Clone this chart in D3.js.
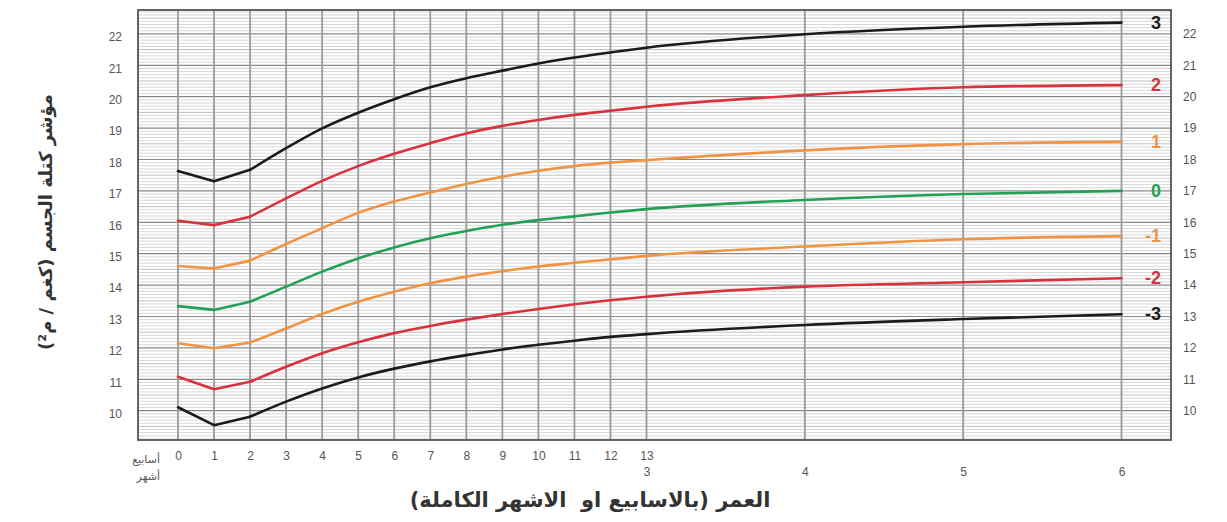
<!DOCTYPE html>
<html>
<head>
<meta charset="utf-8">
<script src="https://cdn.jsdelivr.net/npm/d3@7"></script>
<style>
  html, body { margin: 0; padding: 0; background: #fff; }
  svg { display: block; }
</style>
</head>
<body>
<svg id="chart" width="1227" height="522"></svg>
<script>
// ---------- data ----------
const weeks = [0,1,2,3,4,5,6,7,8,9,10,11,12,13];
const months = [3,4,5,6];
const weekTickLabels = ["0","1","2","3","4","5","6","7","8","9","10","11","12","13"];
const monthTickLabels = ["3","4","5","6"];
const yTicks = [10,11,12,13,14,15,16,17,18,19,20,21,22];
const zLabels = ["3","2","1","0","-1","-2","-3"];

const sdPlus3Weeks  = [17.63,17.31,17.67,18.36,18.99,19.49,19.92,20.30,20.59,20.83,21.06,21.25,21.41,21.56];
const sdPlus3Months = [21.56,21.99,22.23,22.36];
const sdPlus2Weeks  = [16.05,15.91,16.18,16.76,17.32,17.79,18.18,18.52,18.83,19.07,19.26,19.42,19.55,19.68];
const sdPlus2Months = [19.68,20.05,20.30,20.37];
const sdPlus1Weeks  = [14.61,14.53,14.78,15.31,15.81,16.30,16.66,16.95,17.22,17.45,17.64,17.79,17.90,17.98];
const sdPlus1Months = [17.98,18.29,18.49,18.57];
const sd0Weeks      = [13.33,13.21,13.47,13.95,14.43,14.85,15.20,15.49,15.72,15.92,16.07,16.19,16.31,16.42];
const sd0Months     = [16.42,16.71,16.90,17.00];
const sdMinus1Weeks = [12.15,11.99,12.17,12.62,13.08,13.47,13.79,14.06,14.27,14.44,14.59,14.71,14.82,14.93];
const sdMinus1Months= [14.93,15.23,15.46,15.56];
const sdMinus2Weeks = [11.08,10.68,10.92,11.40,11.83,12.18,12.47,12.70,12.90,13.08,13.24,13.39,13.52,13.63];
const sdMinus2Months= [13.63,13.95,14.09,14.22];
const sdMinus3Weeks = [10.11,9.54,9.81,10.29,10.71,11.06,11.34,11.57,11.77,11.95,12.10,12.23,12.35,12.44];
const sdMinus3Months= [12.44,12.73,12.92,13.07];

const yTitle = "مؤشر كتلة الجسم (كغم / م²)";
const xTitle = "العمر (بالاسابيع او  الاشهر الكاملة)";
const weeksWord = "أسابيع";
const monthsWord = "أشهر";

// ---------- styles ----------
const colors = {black:"#1b1b1b", red:"#d8323f", orange:"#f09443", green:"#22a055"};
const seriesColors = [colors.black, colors.red, colors.orange, colors.green, colors.orange, colors.red, colors.black];
const weekSeries = [sdPlus3Weeks, sdPlus2Weeks, sdPlus1Weeks, sd0Weeks, sdMinus1Weeks, sdMinus2Weeks, sdMinus3Weeks];
const monthSeries = [sdPlus3Months, sdPlus2Months, sdPlus1Months, sd0Months, sdMinus1Months, sdMinus2Months, sdMinus3Months];

const svg = d3.select("#chart");
const numFont = "'Liberation Sans', Arial, sans-serif";
const arFont = "'DejaVu Sans', sans-serif";

// x in weeks; months converted (13 weeks = 3 months)
const wPerM = 13/3;
const x = d3.scaleLinear().domain([0, 13, 26]).range([178, 646.5, 1121.5]);
const y = d3.scaleLinear().domain([10, 22]).range([410.7, 33.9]);

const frame = {left: 138, right: 1171, top: 10, bottom: 440};
const yMin = y.invert(frame.bottom), yMax = y.invert(frame.top);

const grid = svg.append("g");
// minor horizontal lines every 0.1
const minor = d3.range(Math.ceil(yMin*10), Math.floor(yMax*10)+1).map(d => d/10)
  .filter(v => Math.abs(v - Math.round(v)) > 1e-6);
grid.selectAll(".minor").data(minor).join("line")
  .attr("x1", frame.left).attr("x2", frame.right)
  .attr("y1", d => y(d)).attr("y2", d => y(d))
  .attr("stroke", d => Math.abs(d*2 - Math.round(d*2)) < 1e-6 ? "#b8b8b8" : "#d2d2d2")
  .attr("stroke-width", 0.9);
// major horizontal
grid.selectAll(".major").data(yTicks).join("line")
  .attr("x1", frame.left).attr("x2", frame.right)
  .attr("y1", d => y(d)).attr("y2", d => y(d))
  .attr("stroke", "#888").attr("stroke-width", 1.2);
// vertical lines
const vLines = weeks.concat(months.slice(1).map(m => m*wPerM));
grid.selectAll(".v").data(vLines).join("line")
  .attr("x1", d => x(d)).attr("x2", d => x(d))
  .attr("y1", frame.top).attr("y2", frame.bottom)
  .attr("stroke", "#9a9a9a").attr("stroke-width", 1.8);
// frame
svg.append("rect")
  .attr("x", frame.left).attr("y", frame.top)
  .attr("width", frame.right - frame.left).attr("height", frame.bottom - frame.top)
  .attr("fill", "none").attr("stroke", "#555").attr("stroke-width", 1.8);

// ---------- curves ----------
const lineLin = d3.line().x(d => x(d[0])).y(d => y(d[1])).curve(d3.curveLinear);
const lineMono = d3.line().x(d => x(d[0])).y(d => y(d[1])).curve(d3.curveMonotoneX);
const curves = svg.append("g");
weekSeries.forEach((ws, i) => {
  const pts = weeks.map((w, j) => [w, ws[j]])
    .concat(months.slice(1).map((m, j) => [m*wPerM, monthSeries[i][j+1]]));
  const g = curves.append("g").attr("fill", "none").attr("stroke", seriesColors[i])
    .attr("stroke-width", 2.6).attr("stroke-linejoin", "round").attr("stroke-linecap", "round");
  g.append("path").attr("d", lineLin(pts.slice(0, 3)));
  g.append("path").attr("d", lineMono(pts.slice(2)));
  // z label
  const last = monthSeries[i][monthSeries[i].length - 1];
  svg.append("text")
    .attr("x", 1161).attr("y", y(last) + 6)
    .attr("text-anchor", "end")
    .attr("font-family", numFont).attr("font-weight", "bold").attr("font-size", 18)
    .attr("fill", seriesColors[i])
    .text(zLabels[i]);
});

// ---------- axes ----------
const axL = svg.append("g").attr("transform", `translate(122,3)`)
  .call(d3.axisLeft(y).tickValues(yTicks).tickSize(0).tickPadding(0));
const axR = svg.append("g").attr("transform", `translate(1183,0)`)
  .call(d3.axisRight(y).tickValues(yTicks).tickSize(0).tickPadding(0));
[axL, axR].forEach(a => {
  a.select(".domain").remove();
  a.selectAll("text").attr("font-family", numFont).attr("font-size", 12).attr("fill", "#555");
});

const axW = svg.append("g").attr("transform", `translate(0,451)`)
  .call(d3.axisBottom(x).tickValues(weeks).tickFormat((d, i) => weekTickLabels[i]).tickSize(0).tickPadding(0));
const axM = svg.append("g").attr("transform", `translate(0,467)`)
  .call(d3.axisBottom(x).tickValues(months.map(m => m*wPerM)).tickFormat((d, i) => monthTickLabels[i]).tickSize(0).tickPadding(0));
[axW, axM].forEach(a => {
  a.select(".domain").remove();
  a.selectAll("text").attr("font-family", numFont).attr("font-size", 12).attr("fill", "#555");
});

svg.append("text").attr("x", 160).attr("y", 463).attr("text-anchor", "end")
  .attr("font-family", arFont).attr("font-size", 11).attr("fill", "#555").text(weeksWord);
svg.append("text").attr("x", 160).attr("y", 480).attr("text-anchor", "end")
  .attr("font-family", arFont).attr("font-size", 11).attr("fill", "#555").text(monthsWord);

// titles
svg.append("text")
  .attr("x", 590).attr("y", 507).attr("text-anchor", "middle")
  .attr("font-family", arFont).attr("font-weight", "bold").attr("font-size", 21).attr("fill", "#333")
  .attr("direction", "rtl")
  .style("white-space", "pre")
  .text(xTitle);
svg.append("text")
  .attr("transform", "translate(52,222) rotate(-90)")
  .attr("text-anchor", "middle")
  .attr("font-family", arFont).attr("font-weight", "bold").attr("font-size", 18).attr("fill", "#333")
  .attr("direction", "rtl")
  .text(yTitle);
</script>
</body>
</html>
